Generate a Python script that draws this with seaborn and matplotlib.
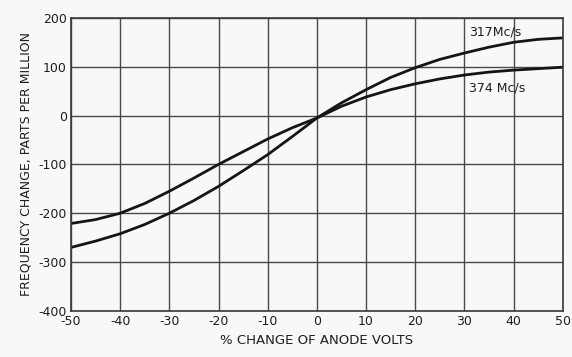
import matplotlib
matplotlib.use("Agg")
import matplotlib.pyplot as plt
import seaborn as sns
import pandas as pd

# Data
anode_change = [-50, -45, -40, -35, -30, -25, -20, -15, -10, -5, 0,
                5, 10, 15, 20, 25, 30, 35, 40, 45, 50]
freq_317 = [-270, -257, -242, -223, -200, -174, -145, -113, -80, -43, -5,
            26, 53, 78, 98, 115, 128, 140, 150, 156, 159]
freq_374 = [-221, -213, -200, -180, -155, -128, -100, -74, -48, -25, -5,
            19, 38, 53, 65, 75, 83, 89, 93, 96, 99]
series_labels = ["317 Mc/s", "374 Mc/s"]
x_ticks = [-50, -40, -30, -20, -10, 0, 10, 20, 30, 40, 50]
x_tick_labels = ["-50", "-40", "-30", "-20", "-10", "0", "10", "20", "30", "40", "50"]
y_ticks = [200, 100, 0, -100, -200, -300, -400]
y_tick_labels = ["200", "100", "0", "-100", "-200", "-300", "-400"]

df = pd.DataFrame({
    "x": anode_change * 2,
    "y": freq_317 + freq_374,
    "series": [series_labels[0]] * len(anode_change) + [series_labels[1]] * len(anode_change),
})

sns.set_style("white")
plt.rcParams["font.family"] = ["DejaVu Sans"]

bg = "#f8f8f8"
txt = "#1e1e1e"
fig = plt.figure(figsize=(5.72, 3.57), dpi=100, facecolor=bg)
ax = fig.add_axes([0.124, 0.129, 0.860, 0.821])
ax.set_facecolor(bg)

sns.lineplot(data=df, x="x", y="y", hue="series", palette=["#151515", "#151515"],
             linewidth=2.0, legend=False, ax=ax)

ax.set_xlim(-50, 50)
ax.set_ylim(-400, 200)
ax.set_xticks(x_ticks)
ax.set_xticklabels(x_tick_labels, fontsize=9, color=txt)
ax.set_yticks(y_ticks)
ax.set_yticklabels(y_tick_labels, fontsize=9, color=txt)
ax.tick_params(axis="both", length=0, pad=3)
ax.grid(True, color="#4a4a4a", linewidth=1.0)
for s in ax.spines.values():
    s.set_color("#3a3a3a")
    s.set_linewidth(1.2)
ax.set_axisbelow(True)

ax.set_xlabel("% CHANGE OF ANODE VOLTS", fontsize=9.5, color=txt, labelpad=4)
ax.set_ylabel("FREQUENCY CHANGE, PARTS PER MILLION", fontsize=9, color=txt, labelpad=4)

ax.text(31, 172, "317Mc/s", fontsize=9, color=txt, va="center", ha="left")
ax.text(31, 57, "374 Mc/s", fontsize=9, color=txt, va="center", ha="left")

fig.savefig("out.png", dpi=100, facecolor=bg)
